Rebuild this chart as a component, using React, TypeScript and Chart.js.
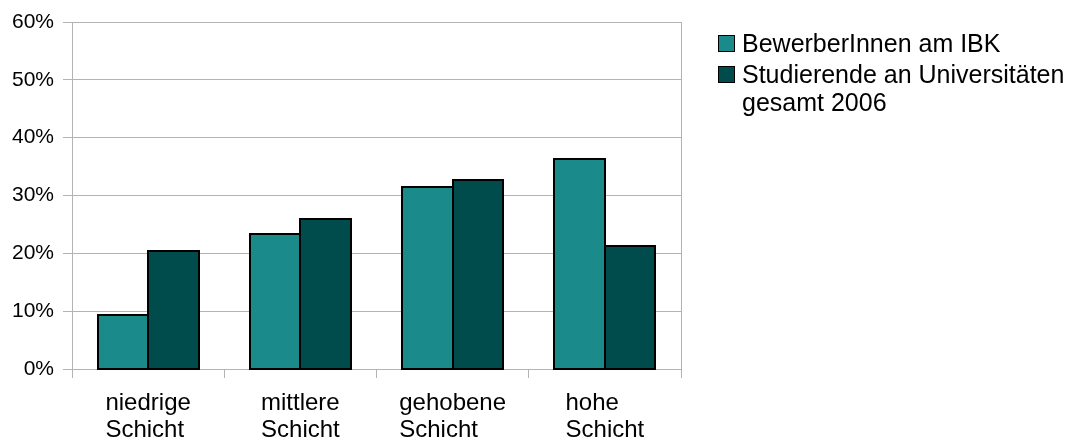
import React, { useEffect, useRef } from "react";
import { Chart, registerables } from "chart.js";

Chart.register(...registerables);

const categories: string[][] = [
  ["niedrige", "Schicht"],
  ["mittlere", "Schicht"],
  ["gehobene", "Schicht"],
  ["hohe", "Schicht"],
];
const seriesNames: string[][] = [
  ["BewerberInnen am IBK"],
  ["Studierende an Universitäten", "gesamt 2006"],
];
const bewerber = [9.3, 23.4, 31.4, 36.3];
const studierende = [20.4, 25.9, 32.6, 21.3];
const yTicks = [0, 10, 20, 30, 40, 50, 60];

const TEAL = "rgb(26,139,138)";
const DARK = "rgb(0,76,76)";
const GRID = "#b3b3b3";
const FONT = "'Liberation Sans', Arial, sans-serif";

const outlinePlugin = {
  id: "outline",
  afterDatasetsDraw(chart: any) {
    const { ctx } = chart;
    ctx.save();
    ctx.strokeStyle = "#000";
    ctx.lineWidth = 2;
    chart.data.datasets.forEach((_: any, di: number) => {
      const meta = chart.getDatasetMeta(di);
      meta.data.forEach((el: any) => {
        const left = Math.round(el.x - el.width / 2);
        const right = Math.round(el.x + el.width / 2);
        const top = Math.round(el.y);
        const bottom = Math.round(el.base);
        ctx.strokeRect(left, top, right - left, bottom - top);
      });
    });
    ctx.restore();
  },
};

const decorPlugin = {
  id: "decor",
  afterDraw(chart: any) {
    const { ctx, chartArea } = chart;
    const xs = chart.scales.x;
    ctx.save();
    // right border line
    ctx.strokeStyle = GRID;
    ctx.lineWidth = 1;
    ctx.beginPath();
    const rx = Math.round(chartArea.right) + 0.5;
    ctx.moveTo(rx, chartArea.top);
    ctx.lineTo(rx, chartArea.bottom + 9);
    ctx.stroke();

    // x labels: block centered, lines left-aligned
    ctx.fillStyle = "#000";
    ctx.font = `24px ${FONT}`;
    ctx.textAlign = "left";
    ctx.textBaseline = "alphabetic";
    categories.forEach((lines, i) => {
      const cx = xs.getPixelForValue(i);
      const w = Math.max(...lines.map((l) => ctx.measureText(l).width));
      const x0 = cx - w / 2;
      lines.forEach((l, j) => {
        ctx.fillText(l, x0, chartArea.bottom + 41 + j * 27);
      });
    });

    // legend
    const colors = [TEAL, DARK];
    const lx = 718;
    let ly = 35;
    ctx.font = `25px ${FONT}`;
    seriesNames.forEach((lines, i) => {
      ctx.fillStyle = colors[i];
      ctx.fillRect(lx, ly, 17, 17);
      ctx.strokeStyle = "#000";
      ctx.lineWidth = 1;
      ctx.strokeRect(lx + 0.5, ly + 0.5, 16, 16);
      ctx.fillStyle = "#000";
      lines.forEach((l, j) => {
        ctx.fillText(l, lx + 24, ly + 17 + j * 28);
      });
      ly += 31;
    });
    ctx.restore();
  },
};

export default function App() {
  const ref = useRef<HTMLCanvasElement>(null);
  useEffect(() => {
    if (!ref.current) return;
    const chart = new Chart(ref.current, {
      type: "bar",
      data: {
        labels: categories.map((c) => c.join(" ")),
        datasets: [
          {
            label: seriesNames[0].join(" "),
            data: bewerber,
            backgroundColor: TEAL,
            borderWidth: 0,
          },
          {
            label: seriesNames[1].join(" "),
            data: studierende,
            backgroundColor: DARK,
            borderWidth: 0,
          },
        ],
      },
      options: {
        responsive: false,
        animation: false,
        layout: { padding: { top: 22, right: 394, left: 0, bottom: 0 } },
        plugins: { legend: { display: false }, tooltip: { enabled: false } },
        datasets: { bar: { categoryPercentage: 0.663, barPercentage: 1 } },
        scales: {
          x: {
            grid: {
              offset: true,
              drawOnChartArea: false,
              drawTicks: true,
              tickLength: 9,
              color: GRID,
            },
            border: { display: true, color: GRID },
            ticks: { display: false },
            afterFit: (s: any) => {
              s.height = 72;
            },
          },
          y: {
            min: 0,
            max: 60,
            afterBuildTicks: (s: any) => {
              s.ticks = yTicks.map((v) => ({ value: v }));
            },
            grid: { color: GRID, tickLength: 9 },
            border: { display: true, color: GRID },
            ticks: {
              padding: 9,
              color: "#000",
              font: { family: FONT, size: 21 },
              callback: (v: any) => `${v}%`,
            },
            afterFit: (s: any) => {
              s.width = 72;
            },
          },
        },
      },
      plugins: [outlinePlugin, decorPlugin],
    });
    return () => chart.destroy();
  }, []);
  return (
    <div style={{ position: "fixed", left: 0, top: 0, width: 1075, height: 441, background: "#fff" }}>
      <canvas ref={ref} width={1075} height={441} style={{ display: "block" }} />
    </div>
  );
}
